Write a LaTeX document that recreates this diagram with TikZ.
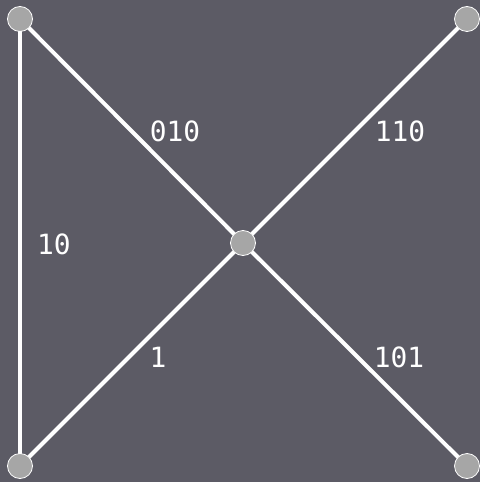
\documentclass[tikz,border=0pt]{standalone}
\usepackage{fontspec}
\newfontfamily\labfont{DejaVu Sans Mono}
\definecolor{bg}{HTML}{5C5B65}
\definecolor{vfill}{HTML}{A6A6A6}
\begin{document}
\begin{tikzpicture}[x=1bp,y=-1bp,
  vert/.style={circle,fill=vfill,draw=white,line width=0.8bp,minimum size=25bp,inner sep=0pt},
  edge/.style={draw=white,line width=4bp},
  lab/.style={text=white,font=\labfont\fontsize{28}{32}\selectfont,inner sep=0pt}]
\fill[bg] (0,0) rectangle (480,482);
\useasboundingbox (0,0) rectangle (480,482);
\coordinate (tl) at (20,19);
\coordinate (tr) at (467,19);
\coordinate (c) at (243,243);
\coordinate (bl) at (20,466);
\coordinate (br) at (467,466);
\path[edge] (tl) -- (bl);
\path[edge] (tl) -- (c);
\path[edge] (c) -- (tr);
\path[edge] (c) -- (bl);
\path[edge] (c) -- (br);
\node[vert] (vtl) at (tl) {};
\node[vert] (vtr) at (tr) {};
\node[vert] (vc) at (c) {};
\node[vert] (vbl) at (bl) {};
\node[vert] (vbr) at (br) {};
\node[lab] (l010) at (175,131) {010};
\node[lab] (l110) at (400,131) {110};
\node[lab] (l10) at (54,244) {10};
\node[lab] (l1) at (158,357) {1};
\node[lab] (l101) at (399,357) {101};
\end{tikzpicture}
\end{document}
